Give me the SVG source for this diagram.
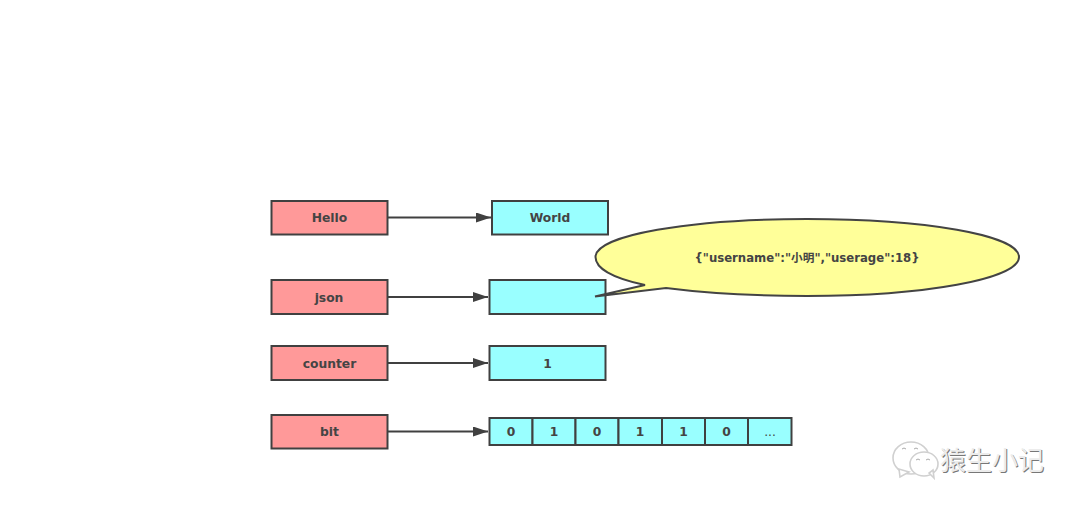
<svg xmlns="http://www.w3.org/2000/svg" width="1080" height="509" viewBox="0 0 1080 509">
<style>
.k{fill:#ff9999;stroke:#404040;stroke-width:2}
.v{fill:#99ffff;stroke:#404040;stroke-width:2}
.t{font:bold 12.300px "DejaVu Sans","Noto Sans CJK SC",sans-serif;fill:#444;text-anchor:middle}
.c{fill:none;stroke:#404040;stroke-width:1.900}
.w{font:26px "Noto Sans CJK SC",sans-serif;text-anchor:start}
.b{fill:#fff;stroke:#d0d0d0;stroke-width:1.600}
</style>
<defs><marker id="a" markerWidth="15" markerHeight="10" refX="15" refY="5" orient="auto" markerUnits="userSpaceOnUse"><path d="M0 0L15 5L0 10Z" fill="#404040"/></marker></defs>
<rect width="1080" height="509" fill="#fff"/>
<g id="connectors">
<path class="c" d="M388 217.500H491" marker-end="url(#a)"/>
<path class="c" d="M388 297H488" marker-end="url(#a)"/>
<path class="c" d="M388 363H488" marker-end="url(#a)"/>
<path class="c" d="M388 431.500H488" marker-end="url(#a)"/>
</g>
<g id="hello"><rect class="k" x="271.500" y="201" width="116" height="33.500"/><text class="t" x="329.500" y="222">Hello</text></g>
<g id="world"><rect class="v" x="492" y="201" width="116" height="33.500"/><text class="t" x="550" y="222">World</text></g>
<g id="json"><rect class="k" x="271.500" y="280" width="116" height="34"/><text class="t" x="329" y="301.500">json</text></g>
<g id="json-value"><rect class="v" x="489.500" y="280" width="116" height="34"/></g>
<g id="counter"><rect class="k" x="271.500" y="346" width="116" height="34"/><text class="t" x="329.500" y="367.500">counter</text></g>
<g id="counter-value"><rect class="v" x="489.500" y="346" width="116" height="34"/><text class="t" x="547.500" y="367.500">1</text></g>
<g id="bit"><rect class="k" x="271.500" y="415" width="116" height="33.500"/><text class="t" x="329.500" y="436">bit</text></g>
<g id="bit-values">
<rect class="v" x="489.500" y="418" width="43" height="27"/><text class="t" x="511" y="436">0</text>
<rect class="v" x="532.500" y="418" width="43" height="27"/><text class="t" x="554" y="436">1</text>
<rect class="v" x="575.500" y="418" width="43" height="27"/><text class="t" x="597" y="436">0</text>
<rect class="v" x="618.500" y="418" width="43.500" height="27"/><text class="t" x="640" y="436">1</text>
<rect class="v" x="662" y="418" width="43" height="27"/><text class="t" x="683.500" y="436">1</text>
<rect class="v" x="705" y="418" width="43" height="27"/><text class="t" x="726.500" y="436">0</text>
<rect class="v" x="748" y="418" width="43.500" height="27"/><text class="t" x="770" y="436" style="font-weight:normal">...</text>
</g>
<g id="callout">
<path d="M595 296.500L645 285C612 278 595.500 268 595.500 257C595.500 235 690 219 807 219C924 219 1019 235 1019 257C1019 279 924 296 807 296C755 296 705 293 666 288Z" fill="#ffff99" stroke="#444" stroke-width="2"/>
<text class="t" x="807" y="262" style="font-size:11.700px">{"username":"小明","userage":18}</text>
</g>
<g id="watermark">
<ellipse class="b" cx="911" cy="458" rx="18" ry="16"/>
<path class="b" d="M899 469L900 477L909 472Z"/>
<ellipse class="b" cx="924" cy="464" rx="14" ry="12"/>
<path class="b" d="M929 473L934 478L933 470Z"/>
<path d="M902 449q2-2 4 0M914 449q2-2 4 0M916 460q2-2 4 0M926 460q2-2 4 0" fill="none" stroke="#aaa" stroke-width="1"/>
<text class="w" x="941" y="471" fill="#777">猿生小记</text>
<text class="w" x="940" y="470" fill="#ececec">猿生小记</text>
</g>
</svg>
